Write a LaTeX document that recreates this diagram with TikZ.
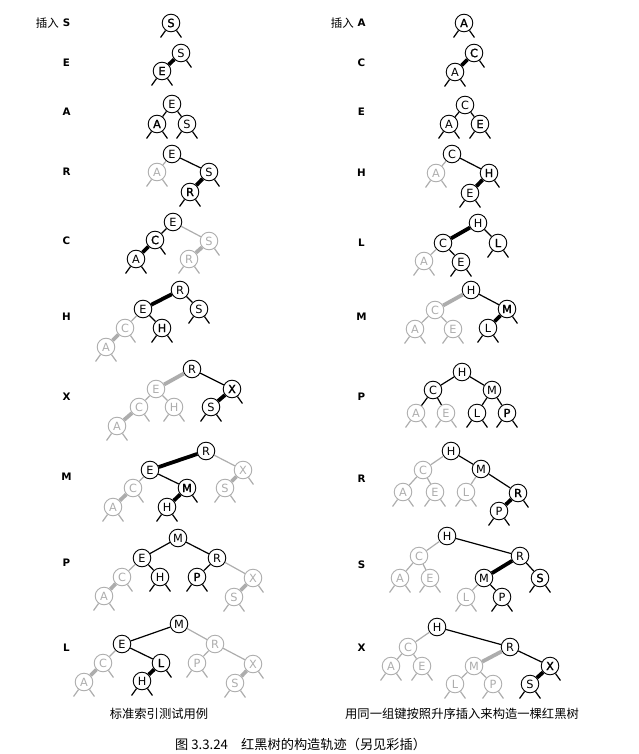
\documentclass[tikz,border=0pt]{standalone}
\usepackage{fontspec}
\setmainfont{DejaVu Sans}
\newfontfamily\cjk{Noto Sans CJK SC}
\newfontfamily\latf{DejaVu Sans}
\newfontfamily\latsb{DejaVu Sans}[FakeBold=1.6]
\definecolor{gry}{gray}{0.68}
\newcommand\stubl[2]{\draw[#1] (#2.234) -- ++(-5,7);}
\newcommand\stubr[2]{\draw[#1] (#2.306) -- ++(5,7);}
\newcommand\stubs[2]{\stubl{#1}{#2}\stubr{#1}{#2}}
\tikzset{
  nb/.style={circle, draw=black, fill=white, minimum size=17.6pt, inner sep=0pt, line width=0.9pt, font=\latf\fontsize{11.3}{11}\selectfont},
  nn/.style={nb, font=\latsb\fontsize{11.3}{11}\selectfont},
  ng/.style={nb, draw=gry, text=gry},
  lb/.style={line width=1.2pt, draw=black},
  lg/.style={line width=1.2pt, draw=gry},
  rb/.style={line width=3.8pt, draw=black},
  rg/.style={line width=3.8pt, draw=gry},
  lab/.style={font=\latf\bfseries\fontsize{10.3}{11}\selectfont, inner sep=0pt},
  labc/.style={font=\cjk\fontsize{11.5}{12}\selectfont, inner sep=0pt, anchor=east},
  captxt/.style={font=\cjk\fontsize{12.3}{13}\selectfont, inner sep=0pt},
  figcap/.style={font=\cjk\fontsize{13.2}{14}\selectfont, inner sep=0pt, anchor=west}
}
\begin{document}
\begin{tikzpicture}[x=1pt,y=-1pt]
\useasboundingbox (0,0) rectangle (639,754);
% ---------- left labels ----------
\node[labc] (lc0) at (59,23) {插入};
\node[lab] (la1) at (66.5,23) {S};
\node[lab] (la2) at (66.5,63) {E};
\node[lab] (la3) at (66.5,112) {A};
\node[lab] (la4) at (66.5,172) {R};
\node[lab] (la5) at (66.5,241) {C};
\node[lab] (la6) at (66.5,317) {H};
\node[lab] (la7) at (66.5,397) {X};
\node[lab] (la8) at (66.5,477) {M};
\node[lab] (la9) at (66.5,563) {P};
\node[lab] (la10) at (66.5,648) {L};
% ---------- right labels ----------
\node[labc] (rc0) at (354,23) {插入};
\node[lab] (ra1) at (361.5,23) {A};
\node[lab] (ra2) at (361.5,63) {C};
\node[lab] (ra3) at (361.5,112) {E};
\node[lab] (ra4) at (361.5,173) {H};
\node[lab] (ra5) at (361.5,243) {L};
\node[lab] (ra6) at (361.5,317) {M};
\node[lab] (ra7) at (361.5,397) {P};
\node[lab] (ra8) at (361.5,479) {R};
\node[lab] (ra9) at (361.5,565) {S};
\node[lab] (ra10) at (361.5,648) {X};

% ================= LEFT COLUMN =================
% row 1
\node[nn] (l1S) at (171,23) {S};
\stubs{lb}{l1S}
% row 2
\node[nb] (l2S) at (181,53) {S};
\node[nn] (l2E) at (162,71) {E};
\draw[rb] (l2S) -- (l2E);
\stubr{lb}{l2S} \stubs{lb}{l2E}
% row 3
\node[nb] (l3E) at (172,104) {E};
\node[nn] (l3A) at (157,124) {A};
\node[nb] (l3S) at (187,124) {S};
\draw[lb] (l3E) -- (l3A); \draw[lb] (l3E) -- (l3S);
\stubs{lb}{l3A} \stubs{lb}{l3S}
% row 4
\node[nb] (l4E) at (172,154) {E};
\node[ng] (l4A) at (157,172) {A};
\node[nb] (l4S) at (209,172) {S};
\node[nn] (l4R) at (190,192) {R};
\draw[lg] (l4E) -- (l4A); \draw[lb] (l4E) -- (l4S); \draw[rb] (l4S) -- (l4R);
\stubs{lg}{l4A} \stubr{lb}{l4S} \stubs{lb}{l4R}
% row 5
\node[nb] (l5E) at (173,222) {E};
\node[nn] (l5C) at (155,240) {C};
\node[nb] (l5A) at (136,259) {A};
\node[ng] (l5S) at (209,241) {S};
\node[ng] (l5R) at (189,259) {R};
\draw[lb] (l5E) -- (l5C); \draw[rb] (l5C) -- (l5A);
\draw[lg] (l5E) -- (l5S); \draw[rg] (l5S) -- (l5R);
\stubr{lb}{l5C} \stubs{lb}{l5A} \stubr{lg}{l5S} \stubs{lg}{l5R}
% row 6
\node[nb] (l6R) at (180,290) {R};
\node[nb] (l6E) at (143,309) {E};
\node[nb] (l6S) at (199,309) {S};
\node[nn] (l6H) at (162,328) {H};
\node[ng] (l6C) at (125,328) {C};
\node[ng] (l6A) at (106,347) {A};
\draw[rb] (l6R) -- (l6E); \draw[lb] (l6R) -- (l6S); \draw[lb] (l6E) -- (l6H);
\draw[lg] (l6E) -- (l6C); \draw[rg] (l6C) -- (l6A);
\stubr{lg}{l6C} \stubs{lg}{l6A} \stubs{lb}{l6H} \stubs{lb}{l6S}
% row 7
\node[nb] (l7R) at (192,369) {R};
\node[ng] (l7E) at (156,389) {E};
\node[nn] (l7X) at (232,389) {X};
\node[nb] (l7S) at (211,407) {S};
\node[ng] (l7C) at (139,407) {C};
\node[ng] (l7H) at (174,407) {H};
\node[ng] (l7A) at (117,426) {A};
\draw[rg] (l7R) -- (l7E); \draw[lb] (l7R) -- (l7X); \draw[rb] (l7X) -- (l7S);
\draw[lg] (l7E) -- (l7C); \draw[lg] (l7E) -- (l7H); \draw[rg] (l7C) -- (l7A);
\stubr{lb}{l7X} \stubs{lb}{l7S} \stubr{lg}{l7C} \stubs{lg}{l7H} \stubs{lg}{l7A}
% row 8
\node[nb] (l8R) at (206,451) {R};
\node[nb] (l8E) at (150,470) {E};
\node[ng] (l8X) at (243,470) {X};
\node[nn] (l8M) at (187,488) {M};
\node[ng] (l8C) at (133,488) {C};
\node[ng] (l8S) at (225,488) {S};
\node[nb] (l8H) at (167,507) {H};
\node[ng] (l8A) at (113,507) {A};
\draw[rb] (l8R) -- (l8E); \draw[lg] (l8R) -- (l8X); \draw[rg] (l8X) -- (l8S);
\draw[lb] (l8E) -- (l8M); \draw[rb] (l8M) -- (l8H);
\draw[lg] (l8E) -- (l8C); \draw[rg] (l8C) -- (l8A);
\stubr{lg}{l8X} \stubs{lg}{l8S} \stubr{lb}{l8M} \stubs{lb}{l8H} \stubr{lg}{l8C} \stubs{lg}{l8A}
% row 9
\node[nb] (l9M) at (178,538) {M};
\node[nb] (l9E) at (142,558) {E};
\node[nb] (l9R) at (217,558) {R};
\node[nb] (l9H) at (160,577) {H};
\node[nn] (l9P) at (197,577) {P};
\node[ng] (l9C) at (122,577) {C};
\node[ng] (l9X) at (253,578) {X};
\node[ng] (l9A) at (104,596) {A};
\node[ng] (l9S) at (234,597) {S};
\draw[lb] (l9M) -- (l9E); \draw[lb] (l9M) -- (l9R); \draw[lb] (l9E) -- (l9H); \draw[lb] (l9R) -- (l9P);
\draw[lg] (l9E) -- (l9C); \draw[rg] (l9C) -- (l9A);
\draw[lg] (l9R) -- (l9X); \draw[rg] (l9X) -- (l9S);
\stubr{lg}{l9C} \stubs{lg}{l9A} \stubr{lg}{l9X} \stubs{lg}{l9S} \stubs{lb}{l9H} \stubs{lb}{l9P}
% row 10
\node[nb] (l10M) at (179,624) {M};
\node[nb] (l10E) at (122,644) {E};
\node[ng] (l10R) at (215,644) {R};
\node[nn] (l10L) at (161,663) {L};
\node[ng] (l10C) at (103,663) {C};
\node[ng] (l10P) at (197,663) {P};
\node[ng] (l10X) at (253,664) {X};
\node[nb] (l10H) at (142,681) {H};
\node[ng] (l10A) at (84,682) {A};
\node[ng] (l10S) at (235,683) {S};
\draw[lb] (l10M) -- (l10E); \draw[lg] (l10M) -- (l10R);
\draw[lb] (l10E) -- (l10L); \draw[rb] (l10L) -- (l10H);
\draw[lg] (l10E) -- (l10C); \draw[rg] (l10C) -- (l10A);
\draw[lg] (l10R) -- (l10P); \draw[lg] (l10R) -- (l10X); \draw[rg] (l10X) -- (l10S);
\stubr{lb}{l10L} \stubs{lb}{l10H} \stubr{lg}{l10C} \stubs{lg}{l10A}
\stubr{lg}{l10X} \stubs{lg}{l10P} \stubs{lg}{l10S}

% ================= RIGHT COLUMN =================
% row 1
\node[nn] (r1A) at (464,23) {A};
\stubs{lb}{r1A}
% row 2
\node[nn] (r2C) at (474,53) {C};
\node[nb] (r2A) at (455,72) {A};
\draw[rb] (r2C) -- (r2A);
\stubr{lb}{r2C} \stubs{lb}{r2A}
% row 3
\node[nb] (r3C) at (465,105) {C};
\node[nb] (r3A) at (449,124) {A};
\node[nn] (r3E) at (480,124) {E};
\draw[lb] (r3C) -- (r3A); \draw[lb] (r3C) -- (r3E);
\stubs{lb}{r3A} \stubs{lb}{r3E}
% row 4
\node[nb] (r4C) at (452,154) {C};
\node[ng] (r4A) at (436,173) {A};
\node[nn] (r4H) at (489,173) {H};
\node[nb] (r4E) at (470,193) {E};
\draw[lg] (r4C) -- (r4A); \draw[lb] (r4C) -- (r4H); \draw[rb] (r4H) -- (r4E);
\stubs{lg}{r4A} \stubr{lb}{r4H} \stubs{lb}{r4E}
% row 5
\node[nb] (r5H) at (478,223) {H};
\node[nb] (r5C) at (443,243) {C};
\node[nn] (r5L) at (498,243) {L};
\node[ng] (r5A) at (424,261) {A};
\node[nb] (r5E) at (461,262) {E};
\draw[rb] (r5H) -- (r5C); \draw[lb] (r5H) -- (r5L);
\draw[lg] (r5C) -- (r5A); \draw[lb] (r5C) -- (r5E);
\stubs{lb}{r5L} \stubs{lb}{r5E} \stubs{lg}{r5A}
% row 6
\node[nb] (r6H) at (471,290) {H};
\node[ng] (r6C) at (435,310) {C};
\node[nn] (r6M) at (507,309) {M};
\node[ng] (r6A) at (415,329) {A};
\node[ng] (r6E) at (453,329) {E};
\node[nb] (r6L) at (488,328) {L};
\draw[rg] (r6H) -- (r6C); \draw[lb] (r6H) -- (r6M); \draw[rb] (r6M) -- (r6L);
\draw[lg] (r6C) -- (r6A); \draw[lg] (r6C) -- (r6E);
\stubr{lb}{r6M} \stubs{lb}{r6L} \stubs{lg}{r6A} \stubs{lg}{r6E}
% row 7
\node[nb] (r7H) at (462,372) {H};
\node[nb] (r7C) at (433,390) {C};
\node[nb] (r7M) at (492,390) {M};
\node[ng] (r7A) at (416,413) {A};
\node[ng] (r7E) at (446,413) {E};
\node[nb] (r7L) at (477,413) {L};
\node[nn] (r7P) at (507,413) {P};
\draw[lb] (r7H) -- (r7C); \draw[lb] (r7H) -- (r7M);
\draw[lb] (r7C) -- (r7A); \draw[lb] (r7C) -- (r7E);
\draw[lb] (r7M) -- (r7L); \draw[lb] (r7M) -- (r7P);
\stubs{lg}{r7A} \stubs{lg}{r7E} \stubs{lb}{r7L} \stubs{lb}{r7P}
% row 8
\node[nb] (r8H) at (451,451) {H};
\node[ng] (r8C) at (423,470) {C};
\node[nb] (r8M) at (481,469) {M};
\node[ng] (r8A) at (403,492) {A};
\node[ng] (r8E) at (435,492) {E};
\node[ng] (r8L) at (466,492) {L};
\node[nn] (r8R) at (518,493) {R};
\node[nb] (r8P) at (499,511) {P};
\draw[lg] (r8H) -- (r8C); \draw[lb] (r8H) -- (r8M);
\draw[lg] (r8C) -- (r8A); \draw[lg] (r8C) -- (r8E);
\draw[lg] (r8M) -- (r8L); \draw[lb] (r8M) -- (r8R); \draw[rb] (r8R) -- (r8P);
\stubr{lb}{r8R} \stubs{lb}{r8P} \stubs{lg}{r8A} \stubs{lg}{r8E} \stubs{lg}{r8L}
% row 9
\node[nb] (r9H) at (447,536) {H};
\node[ng] (r9C) at (419,556) {C};
\node[nb] (r9R) at (520,556) {R};
\node[ng] (r9A) at (400,578) {A};
\node[ng] (r9E) at (430,578) {E};
\node[nb] (r9M) at (484,578) {M};
\node[nn] (r9S) at (540,578) {S};
\node[ng] (r9L) at (466,597) {L};
\node[nb] (r9P) at (502,597) {P};
\draw[lg] (r9H) -- (r9C); \draw[lb] (r9H) -- (r9R);
\draw[lg] (r9C) -- (r9A); \draw[lg] (r9C) -- (r9E);
\draw[rb] (r9R) -- (r9M); \draw[lb] (r9R) -- (r9S);
\draw[lg] (r9M) -- (r9L); \draw[lb] (r9M) -- (r9P);
\stubs{lb}{r9S} \stubs{lb}{r9P} \stubs{lg}{r9L} \stubs{lg}{r9A} \stubs{lg}{r9E}
% row 10
\node[nb] (r10H) at (437,627) {H};
\node[ng] (r10C) at (408,647) {C};
\node[nb] (r10R) at (510,647) {R};
\node[ng] (r10A) at (391,666) {A};
\node[ng] (r10E) at (422,666) {E};
\node[ng] (r10M) at (474,666) {M};
\node[nn] (r10X) at (550,666) {X};
\node[ng] (r10L) at (455,684) {L};
\node[ng] (r10P) at (493,684) {P};
\node[nb] (r10S) at (530,684) {S};
\draw[lg] (r10H) -- (r10C); \draw[lb] (r10H) -- (r10R);
\draw[lg] (r10C) -- (r10A); \draw[lg] (r10C) -- (r10E);
\draw[rg] (r10R) -- (r10M); \draw[lb] (r10R) -- (r10X); \draw[rb] (r10X) -- (r10S);
\draw[lg] (r10M) -- (r10L); \draw[lg] (r10M) -- (r10P);
\stubr{lb}{r10X} \stubs{lb}{r10S} \stubs{lg}{r10L} \stubs{lg}{r10P} \stubs{lg}{r10A} \stubs{lg}{r10E}

% ---------- captions ----------
\node[captxt] (capl) at (159,714) {标准索引测试用例};
\node[captxt] (capr) at (462,714) {用同一组键按照升序插入来构造一棵红黑树};
\node[figcap] (figc) at (175,744) {图 3.3.24\hspace{1em}红黑树的构造轨迹（另见彩插）};
\end{tikzpicture}
\end{document}
